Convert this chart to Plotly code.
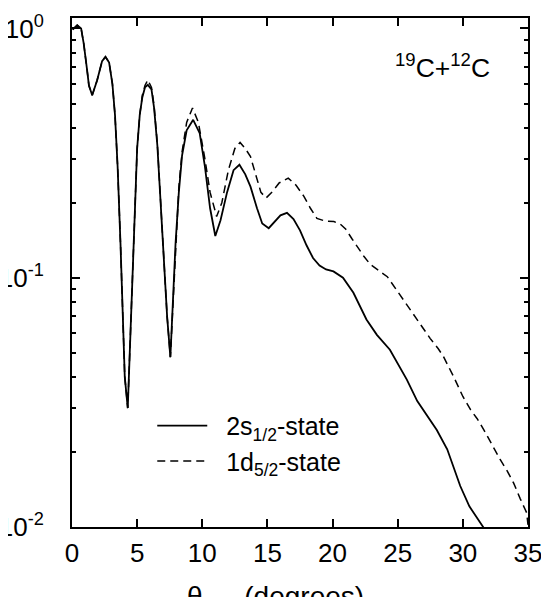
import plotly.graph_objects as go

# ---- data ----
theta_s = [0.05, 0.4, 0.7, 0.9, 1.16, 1.3, 1.55, 1.93, 2.31, 2.57, 2.85, 3.1, 3.3, 3.5, 3.72, 3.9, 4.05, 4.28,
           4.45, 4.61, 4.8, 5.0, 5.2, 5.4, 5.6, 5.82, 6.1, 6.3, 6.55, 6.8, 7.05, 7.3, 7.55, 7.75, 7.95, 8.2,
           8.45, 8.8, 9.3, 9.8, 10.2, 10.6, 11.0, 11.4, 11.9, 12.4, 12.85, 13.3, 13.7, 14.2, 14.6, 15.1, 15.6,
           16.0, 16.5, 17.0, 17.5, 18.0, 18.5, 19.0, 19.5, 20.07, 20.8, 21.6, 22.6, 23.4, 24.4, 25.0, 25.7,
           26.5, 27.4, 28.0, 28.8, 29.3, 29.8, 30.5, 31.0, 31.5, 31.9]
sigma_2s = [0.99, 1.03, 1.0, 0.87, 0.68, 0.59, 0.54, 0.62, 0.74, 0.77, 0.73, 0.60, 0.45, 0.28, 0.138, 0.065,
            0.040, 0.030, 0.055, 0.10, 0.19, 0.33, 0.45, 0.53, 0.58, 0.594, 0.57, 0.48, 0.34, 0.20, 0.115,
            0.07, 0.048, 0.08, 0.138, 0.22, 0.31, 0.39, 0.43, 0.38, 0.28, 0.19, 0.147, 0.17, 0.22, 0.27,
            0.284, 0.26, 0.232, 0.19, 0.165, 0.158, 0.168, 0.178, 0.182, 0.172, 0.155, 0.135, 0.12, 0.112,
            0.108, 0.106, 0.100, 0.087, 0.068, 0.059, 0.0514, 0.045, 0.039, 0.032, 0.0272, 0.0245, 0.0205,
            0.0172, 0.0146, 0.0121, 0.011, 0.0101, 0.0094]

theta_d = [0.05, 0.4, 0.7, 0.9, 1.16, 1.3, 1.55, 1.93, 2.31, 2.57, 2.85, 3.1, 3.3, 3.5, 3.72, 3.9, 4.05, 4.28,
           4.45, 4.61, 4.8, 5.0, 5.2, 5.4, 5.6, 5.82, 6.1, 6.3, 6.55, 6.8, 7.05, 7.3, 7.55, 7.75, 7.95, 8.2,
           8.45, 8.8, 9.25, 9.7, 10.2, 10.6, 11.1, 11.5, 12.0, 12.5, 12.9, 13.3, 13.7, 14.2, 14.5, 14.9, 15.4,
           15.9, 16.6, 17.2, 17.8, 18.3, 18.8, 19.4, 20.1, 20.6, 21.0, 21.5, 21.9, 22.4, 22.9, 23.6, 24.2,
           24.9, 25.6, 26.5, 27.5, 28.1, 28.5, 29.3, 30.0, 30.6, 31.1, 31.6, 32.2, 32.85, 33.4, 33.9, 34.4,
           34.9, 35.0]
sigma_1d = [0.99, 1.03, 1.0, 0.87, 0.68, 0.59, 0.54, 0.62, 0.74, 0.77, 0.73, 0.60, 0.45, 0.28, 0.138, 0.065,
            0.040, 0.030, 0.055, 0.10, 0.19, 0.33, 0.45, 0.54, 0.59, 0.622, 0.58, 0.49, 0.345, 0.20, 0.115,
            0.07, 0.048, 0.08, 0.14, 0.23, 0.32, 0.42, 0.48, 0.42, 0.30, 0.22, 0.176, 0.20, 0.27, 0.33,
            0.349, 0.33, 0.306, 0.25, 0.22, 0.209, 0.222, 0.24, 0.251, 0.235, 0.212, 0.19, 0.173, 0.169,
            0.168, 0.164, 0.157, 0.143, 0.133, 0.122, 0.113, 0.106, 0.101, 0.0895, 0.079, 0.068, 0.057,
            0.052, 0.0484, 0.040, 0.0334, 0.0295, 0.0272, 0.0246, 0.0215, 0.0187, 0.0168, 0.015, 0.013,
            0.0114, 0.0102]

x_ticks = [0, 5, 10, 15, 20, 25, 30, 35]
y_ticks = [1e-2, 1e-1, 1e0]
y_ticktext = ["10<sup>-2</sup>", "10<sup>-1</sup>", "10<sup>0</sup>"]
y_minor = [m * 10.0 ** e for e in (-2, -1) for m in range(2, 10)]

FONT = "Liberation Sans, Arial, sans-serif"

fig = go.Figure()
fig.add_trace(go.Scatter(x=theta_s, y=sigma_2s, mode="lines", name="  2s<sub>1/2</sub>-state",
                         line=dict(color="black", width=1.8)))
fig.add_trace(go.Scatter(x=theta_d, y=sigma_1d, mode="lines", name="  1d<sub>5/2</sub>-state",
                         line=dict(color="black", width=1.5, dash="8px,5px")))

axis_common = dict(showline=True, linecolor="black", linewidth=2, mirror="ticks",
                   ticks="inside", tickcolor="black", tickwidth=1.5, showgrid=False, zeroline=False,
                   tickfont=dict(family=FONT, size=26, color="black"))

fig.update_xaxes(range=[0, 35], tickmode="array", tickvals=x_ticks, ticklen=8, ticklabelstandoff=2,
                 **axis_common)
fig.update_yaxes(type="log", range=[-2, 0.042], tickmode="array", tickvals=y_ticks, ticktext=y_ticktext,
                 ticklen=8, ticklabelstandoff=21,
                 minor=dict(tickmode="array", tickvals=y_minor, ticks="inside", ticklen=4,
                            tickcolor="black", tickwidth=1.5, showgrid=False),
                 **axis_common)

fig.add_annotation(text="<sup>19</sup>C+<sup>12</sup>C", xref="paper", yref="paper", x=0.922, y=0.906,
                   xanchor="right", yanchor="middle", showarrow=False,
                   font=dict(family=FONT, size=26.5, color="black"))
fig.add_annotation(text="θ<sub>cm</sub>  (degrees)", xref="paper", yref="paper", x=0.248, y=-0.14,
                   xanchor="left", yanchor="middle", showarrow=False,
                   font=dict(family=FONT, size=28, color="black"))

# the page body adds an 8px offset; margins compensate so the frame sits at
# x 71.5..528, y 18..527 of the window
fig.update_layout(
    width=549, height=597,
    margin=dict(l=63.5, r=29, t=10, b=78, autoexpand=False),
    paper_bgcolor="white", plot_bgcolor="white",
    showlegend=True,
    legend=dict(x=0.176, y=0.244, xanchor="left", yanchor="top", bgcolor="rgba(0,0,0,0)",
                itemwidth=50,
                font=dict(family=FONT, size=25, color="black"), tracegroupgap=0),
)

fig.write_html("out.html")
